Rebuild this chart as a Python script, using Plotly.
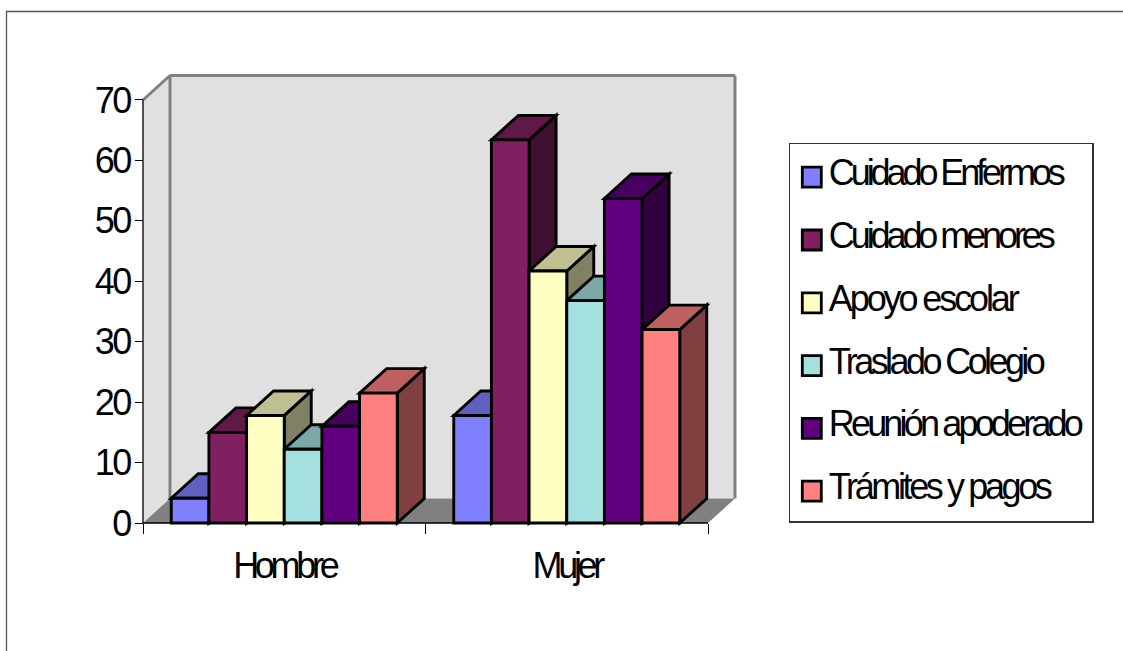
import json
import plotly.graph_objects as go

# Survey results per sex
categories = ["Hombre", "Mujer"]
series_names = ["Cuidado Enfermos", "Cuidado menores", "Apoyo escolar",
                "Traslado Colegio", "Reunión apoderado", "Trámites y pagos"]
cuidado_enfermos = [4.1, 17.8]
cuidado_menores = [15, 63.4]
apoyo_escolar = [17.8, 41.7]
traslado_colegio = [12.2, 36.8]
reunion_apoderado = [16, 53.7]
tramites_pagos = [21.5, 32]
series_values = [cuidado_enfermos, cuidado_menores, apoyo_escolar,
                 traslado_colegio, reunion_apoderado, tramites_pagos]
y_ticks = [0, 10, 20, 30, 40, 50, 60, 70]

front_colors = ["#8080FF", "#802060", "#FFFFC4", "#A4E0E0", "#600080", "#FF8080"]
top_colors = ["#6060C0", "#601848", "#BFBF92", "#7BA8A8", "#480060", "#BF6060"]
side_colors = ["#404080", "#401030", "#808062", "#527070", "#300040", "#804040"]

W, H = 1123, 651
X0_PX, Y0_PX = 143.0, 523.0      # origin of the front plane
PX_PER_CAT, PX_PER_UNIT = 282.5, 6.043
DX, DY = 27 / PX_PER_CAT, 24.5 / PX_PER_UNIT   # oblique depth in axis units
GROUP = 0.8
BAR_W = GROUP / len(series_names)
EDGE = 2.9

x_range = [-0.5 - X0_PX / PX_PER_CAT, -0.5 + (W - X0_PX) / PX_PER_CAT]
y_range = [-(H - Y0_PX) / PX_PER_UNIT, Y0_PX / PX_PER_UNIT]
x_lo, x_hi = -0.5, 1.5
y_hi = 70


def poly(points, fill, line_color="black", width=EDGE):
    path = "M " + " L ".join(f"{x},{y}" for x, y in points) + " Z"
    return dict(type="path", path=path, xref="x", yref="y", layer="below",
                fillcolor=fill, line=dict(color=line_color, width=width))


def seg(x0, y0, x1, y1, color, width):
    return dict(type="line", xref="x", yref="y", layer="below", x0=x0, y0=y0,
                x1=x1, y1=y1, line=dict(color=color, width=width))


shapes = [
    # chart area frame, running off the page to the right and below
    dict(type="rect", xref="paper", yref="paper", x0=6.5 / W, x1=1.2,
         y0=-0.2, y1=1 - 11.5 / H, layer="below",
         line=dict(color="#555555", width=1.3), fillcolor="white"),
    # walls and floor of the box
    poly([(x_lo, 0), (x_lo + DX, DY), (x_lo + DX, y_hi + DY), (x_lo, y_hi)], "#E0E0E0", "#E0E0E0", 0),
    poly([(x_lo + DX, DY), (x_hi + DX, DY), (x_hi + DX, y_hi + DY), (x_lo + DX, y_hi + DY)], "#E0E0E0", "#E0E0E0", 0),
    poly([(x_lo, 0), (x_hi, 0), (x_hi + DX, DY), (x_lo + DX, DY)], "#808080", "#808080", 0),
    seg(x_lo, y_hi, x_lo + DX, y_hi + DY, "#808080", 3),
    seg(x_lo + DX, DY, x_lo + DX, y_hi + DY, "#808080", 3),
    seg(x_lo + DX, y_hi + DY, x_hi + DX, y_hi + DY, "#808080", 3),
    seg(x_hi + DX, DY, x_hi + DX, y_hi + DY, "#808080", 3),
    # axis lines
    seg(x_lo, 0, x_lo, y_hi, "black", 1.3),
    seg(x_lo, 0, x_hi, 0, "black", 1.3),
]

# Oblique top and side faces of every bar, left to right
for c in range(len(categories)):
    for i, values in enumerate(series_values):
        v = values[c]
        left = c - GROUP / 2 + i * BAR_W
        right = left + BAR_W
        shapes.append(poly([(right, 0), (right + DX, DY), (right + DX, v + DY), (right, v)], side_colors[i]))
        shapes.append(poly([(left, v), (right, v), (right + DX, v + DY), (left + DX, v + DY)], top_colors[i]))

fig = go.Figure()
for i, name in enumerate(series_names):
    fig.add_trace(go.Bar(
        x=list(range(len(categories))), y=series_values[i], name=name,
        legendgroup=name, width=BAR_W, cliponaxis=False,
        marker=dict(color=front_colors[i], line=dict(color="black", width=EDGE)),
        hoverinfo="name+y",
    ))

fig.update_layout(
    width=W, height=H, margin=dict(l=0, r=0, t=0, b=0, autoexpand=False), autosize=False,
    paper_bgcolor="white", plot_bgcolor="rgba(0,0,0,0)",
    barmode="group", bargap=0.2, bargroupgap=0,
    font=dict(family="Liberation Sans", size=36, color="black"),
    shapes=shapes, showlegend=True,
    xaxis=dict(domain=[0, 1], range=x_range, anchor="free", position=(H - Y0_PX) / H,
               tickmode="array", tickvals=[0, 1], ticktext=categories,
               ticks="", ticklen=0, showgrid=False, zeroline=False, showline=False,
               ticklabelstandoff=18,
               minor=dict(tickmode="array", tickvals=[-0.5, 0.5, 1.5], ticks="outside",
                          ticklen=10, tickwidth=1.3, tickcolor="black", showgrid=False)),
    yaxis=dict(domain=[0, 1], range=y_range, anchor="free", position=X0_PX / W,
               tickmode="array", tickvals=y_ticks, ticks="outside", ticklen=8,
               tickwidth=1.3, tickcolor="black", showgrid=False, zeroline=False,
               showline=False, ticklabelstandoff=-2),
    legend=dict(x=788.5 / W, y=1 - 142.5 / H, xanchor="left", yanchor="top",
                bgcolor="white", bordercolor="#333333", borderwidth=1.3,
                font=dict(size=36), tracegroupgap=13, itemwidth=30,
                traceorder="grouped", entrywidth=200, entrywidthmode="pixels",
                itemclick=False, itemdoubleclick=False),
)

# Legend labels are tightened to fixed widths and swatches enlarged once drawn
legend_widths = dict(zip(series_names, [237, 227, 191, 217, 255, 224]))
post = """
var gd = document.getElementById('{plot_id}');
var widths = %s;
gd.querySelectorAll('.legendtext').forEach(function (t) {
  var w = widths[t.textContent];
  if (w) { t.setAttribute('textLength', w); t.setAttribute('lengthAdjust', 'spacing'); }
});
gd.querySelectorAll('.legendpoints path').forEach(function (p) {
  p.setAttribute('d', 'M9.5,10H-9.5V-10H9.5Z');
  p.setAttribute('transform', 'translate(23,6)');
  p.style.strokeWidth = '2.8px';
});
var bg = gd.querySelector('.legend .bg');
bg.setAttribute('width', 304);
bg.setAttribute('height', 379);
var clip = gd.querySelector('.legend .scrollbox');
if (clip) { clip.removeAttribute('clip-path'); }
gd.querySelectorAll('.legend .traces text, .legend .legendpoints').forEach(function (n) {
  var prev = n.getAttribute('transform') || '';
  n.setAttribute('transform', 'translate(-1,-2.5) ' + prev);
});
gd.querySelectorAll('.xtick text').forEach(function (t) { t.style.letterSpacing = '-4.3px'; });
gd.querySelectorAll('.ytick text').forEach(function (t) { t.style.letterSpacing = '-2.5px'; });
""" % json.dumps(legend_widths)

fig.write_html("out.html", post_script=post, config=dict(displayModeBar=False))
